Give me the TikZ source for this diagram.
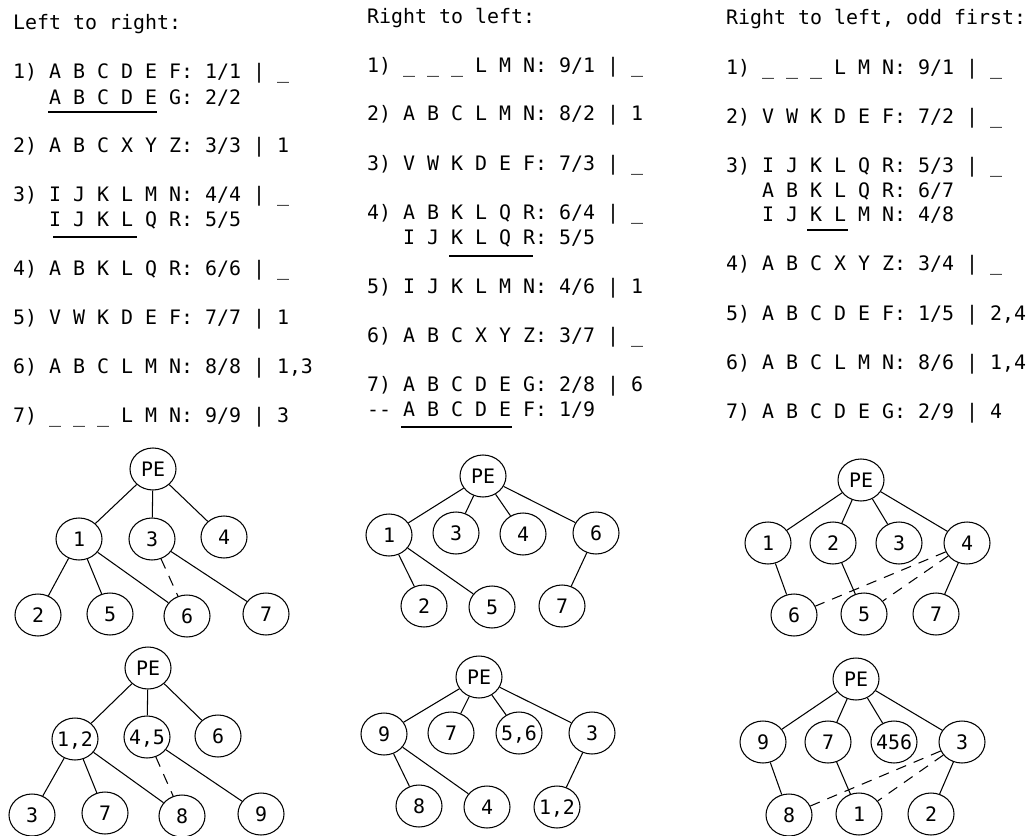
\documentclass[tikz,border=0pt]{standalone}
\usepackage{fontspec}
\setmonofont{DejaVu Sans Mono}
\usetikzlibrary{shapes.geometric}
\newcommand{\codesize}{\ttfamily\fontsize{17}{20}\selectfont}

\begin{document}
\begin{tikzpicture}[
  x=0.03cm, y=-0.03cm,
  txt/.style={anchor=base west,inner sep=0pt,font=\codesize},
  ball/.style={ellipse,draw,line width=0.9pt,
               minimum width=1.38cm,minimum height=1.26cm,
               inner xsep=-6pt,inner ysep=0pt,
               text height=12pt,text depth=0pt,font=\codesize},
  link/.style={line width=0.9pt},
  weak/.style={link,dash pattern=on 9pt off 7pt},
  uline/.style={line width=0.9pt},
]
\useasboundingbox (0,0) rectangle (1031,836);

%% Left to right
\node[txt] (lr-title) at (13, 29)  {Left to right:};
\node[txt] (lr-1)  at (13, 78)  {1) A B C D E F: 1/1 | \_};
\node[txt] (lr-1b) at (49,104)  {A B C D E G: 2/2};
\node[txt] (lr-2)  at (13,152)  {2) A B C X Y Z: 3/3 | 1};
\node[txt] (lr-3)  at (13,201)  {3) I J K L M N: 4/4 | \_};
\node[txt] (lr-3b) at (49,226)  {I J K L Q R: 5/5};
\node[txt] (lr-4)  at (13,275)  {4) A B K L Q R: 6/6 | \_};
\node[txt] (lr-5)  at (13,324)  {5) V W K D E F: 7/7 | 1};
\node[txt] (lr-6)  at (13,373)  {6) A B C L M N: 8/8 | 1,3};
\node[txt] (lr-7)  at (13,422)  {7) \_ \_ \_ L M N: 9/9 | 3};
\draw[uline] (48,112) -- (157,112);
\draw[uline] (53,237) -- (137,237);

%% Right to left
\node[txt] (rl-title) at (367, 23) {Right to left:};
\node[txt] (rl-1)  at (367, 72)  {1) \_ \_ \_ L M N: 9/1 | \_};
\node[txt] (rl-2)  at (367,120)  {2) A B C L M N: 8/2 | 1};
\node[txt] (rl-3)  at (367,170)  {3) V W K D E F: 7/3 | \_};
\node[txt] (rl-4)  at (367,219)  {4) A B K L Q R: 6/4 | \_};
\node[txt] (rl-4b) at (403,244)  {I J K L Q R: 5/5};
\node[txt] (rl-5)  at (367,293)  {5) I J K L M N: 4/6 | 1};
\node[txt] (rl-6)  at (367,342)  {6) A B C X Y Z: 3/7 | \_};
\node[txt] (rl-7)  at (367,391)  {7) A B C D E G: 2/8 | 6};
\node[txt] (rl-7b) at (367,416)  {-\kern0pt- A B C D E F: 1/9};
\draw[uline] (449,256) -- (533,256);
\draw[uline] (401,427) -- (512,427);

%% Right to left, odd first
\node[txt] (ro-title) at (726, 24) {Right to left, odd first:};
\node[txt] (ro-1)  at (726, 74)  {1) \_ \_ \_ L M N: 9/1 | \_};
\node[txt] (ro-2)  at (726,123)  {2) V W K D E F: 7/2 | \_};
\node[txt] (ro-3)  at (726,172)  {3) I J K L Q R: 5/3 | \_};
\node[txt] (ro-3b) at (762,197)  {A B K L Q R: 6/7};
\node[txt] (ro-3c) at (762,221)  {I J K L M N: 4/8};
\node[txt] (ro-4)  at (726,270)  {4) A B C X Y Z: 3/4 | \_};
\node[txt] (ro-5)  at (726,320)  {5) A B C D E F: 1/5 | 2,4};
\node[txt] (ro-6)  at (726,369)  {6) A B C L M N: 8/6 | 1,4};
\node[txt] (ro-7)  at (726,418)  {7) A B C D E G: 2/9 | 4};
\draw[uline] (807,230) -- (848,230);

%% Trees, left column
\node[ball] (lrA-pe) at (153,469) {PE};
\node[ball] (lrA-1)  at (79,539)  {1};
\node[ball] (lrA-3)  at (152,539) {3};
\node[ball] (lrA-4)  at (224,537) {4};
\node[ball] (lrA-2)  at (38,615)  {2};
\node[ball] (lrA-5)  at (110,614) {5};
\node[ball] (lrA-6)  at (187,616) {6};
\node[ball] (lrA-7)  at (266,614) {7};
\draw[link] (lrA-pe) -- (lrA-1);
\draw[link] (lrA-pe) -- (lrA-3);
\draw[link] (lrA-pe) -- (lrA-4);
\draw[link] (lrA-1) -- (lrA-2);
\draw[link] (lrA-1) -- (lrA-5);
\draw[link] (lrA-1) -- (lrA-6);
\draw[weak] (lrA-3) -- (lrA-6);
\draw[link] (lrA-3) -- (lrA-7);

\node[ball] (lrB-pe) at (148,668) {PE};
\node[ball] (lrB-12) at (75,739)  {1,2};
\node[ball] (lrB-45) at (147,737) {4,5};
\node[ball] (lrB-6)  at (218,736) {6};
\node[ball] (lrB-3)  at (32,815)  {3};
\node[ball] (lrB-7)  at (105,813) {7};
\node[ball] (lrB-8)  at (182,816) {8};
\node[ball] (lrB-9)  at (261,814) {9};
\draw[link] (lrB-pe) -- (lrB-12);
\draw[link] (lrB-pe) -- (lrB-45);
\draw[link] (lrB-pe) -- (lrB-6);
\draw[link] (lrB-12) -- (lrB-3);
\draw[link] (lrB-12) -- (lrB-7);
\draw[link] (lrB-12) -- (lrB-8);
\draw[weak] (lrB-45) -- (lrB-8);
\draw[link] (lrB-45) -- (lrB-9);

%% Trees, middle column
\node[ball] (rlA-pe) at (483,476) {PE};
\node[ball] (rlA-1)  at (389,535) {1};
\node[ball] (rlA-3)  at (456,533) {3};
\node[ball] (rlA-4)  at (523,534) {4};
\node[ball] (rlA-6)  at (596,533) {6};
\node[ball] (rlA-2)  at (424,606) {2};
\node[ball] (rlA-5)  at (492,607) {5};
\node[ball] (rlA-7)  at (562,606) {7};
\draw[link] (rlA-pe) -- (rlA-1);
\draw[link] (rlA-pe) -- (rlA-3);
\draw[link] (rlA-pe) -- (rlA-4);
\draw[link] (rlA-pe) -- (rlA-6);
\draw[link] (rlA-1) -- (rlA-2);
\draw[link] (rlA-1) -- (rlA-5);
\draw[link] (rlA-6) -- (rlA-7);

\node[ball] (rlB-pe) at (479,677) {PE};
\node[ball] (rlB-9)  at (384,734) {9};
\node[ball] (rlB-7)  at (451,733) {7};
\node[ball] (rlB-56) at (519,733) {5,6};
\node[ball] (rlB-3)  at (592,733) {3};
\node[ball] (rlB-8)  at (419,806) {8};
\node[ball] (rlB-4)  at (487,807) {4};
\node[ball] (rlB-12) at (557,807) {1,2};
\draw[link] (rlB-pe) -- (rlB-9);
\draw[link] (rlB-pe) -- (rlB-7);
\draw[link] (rlB-pe) -- (rlB-56);
\draw[link] (rlB-pe) -- (rlB-3);
\draw[link] (rlB-9) -- (rlB-8);
\draw[link] (rlB-9) -- (rlB-4);
\draw[link] (rlB-3) -- (rlB-12);

%% Trees, right column
\node[ball] (roA-pe) at (861,480) {PE};
\node[ball] (roA-1)  at (768,543) {1};
\node[ball] (roA-2)  at (833,543) {2};
\node[ball] (roA-3)  at (899,543) {3};
\node[ball] (roA-4)  at (967,543) {4};
\node[ball] (roA-6)  at (794,615) {6};
\node[ball] (roA-5)  at (864,614) {5};
\node[ball] (roA-7)  at (936,614) {7};
\draw[link] (roA-pe) -- (roA-1);
\draw[link] (roA-pe) -- (roA-2);
\draw[link] (roA-pe) -- (roA-3);
\draw[link] (roA-pe) -- (roA-4);
\draw[link] (roA-1) -- (roA-6);
\draw[link] (roA-2) -- (roA-5);
\draw[link] (roA-4) -- (roA-7);
\draw[weak] (roA-4) -- (roA-6);
\draw[weak] (roA-4) -- (roA-5);

\node[ball] (roB-pe)  at (856,679) {PE};
\node[ball] (roB-9)   at (763,742) {9};
\node[ball] (roB-7)   at (828,742) {7};
\node[ball] (roB-456) at (894,742) {456};
\node[ball] (roB-3)   at (962,742) {3};
\node[ball] (roB-8)   at (789,815) {8};
\node[ball] (roB-1)   at (859,814) {1};
\node[ball] (roB-2)   at (931,814) {2};
\draw[link] (roB-pe) -- (roB-9);
\draw[link] (roB-pe) -- (roB-7);
\draw[link] (roB-pe) -- (roB-456);
\draw[link] (roB-pe) -- (roB-3);
\draw[link] (roB-9) -- (roB-8);
\draw[link] (roB-7) -- (roB-1);
\draw[link] (roB-3) -- (roB-2);
\draw[weak] (roB-3) -- (roB-8);
\draw[weak] (roB-3) -- (roB-1);

\end{tikzpicture}
\end{document}
